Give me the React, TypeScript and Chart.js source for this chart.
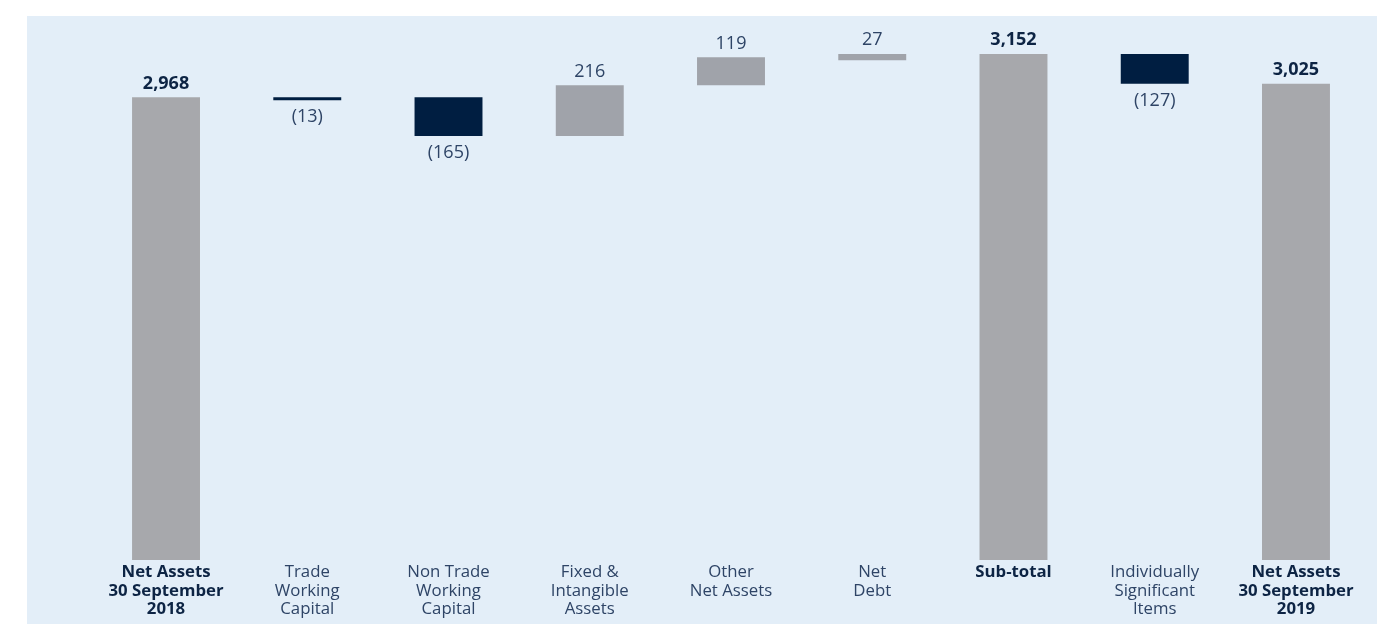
import React, { useEffect, useRef } from 'react';
import { Chart, registerables } from 'chart.js';

Chart.register(...registerables);

const categories: string[][] = [
  ['Net Assets', '30 September', '2018'],
  ['Trade', 'Working', 'Capital'],
  ['Non Trade', 'Working', 'Capital'],
  ['Fixed &', 'Intangible', 'Assets'],
  ['Other', 'Net Assets'],
  ['Net', 'Debt'],
  ['Sub-total'],
  ['Individually', 'Significant', 'Items'],
  ['Net Assets', '30 September', '2019'],
];
const changes = [2968, -13, -165, 216, 119, 27, 3152, -127, 3025];
const isTotal = [true, false, false, false, false, false, true, false, true];
const barLow = [1000, 2955, 2803, 2803, 3019, 3125, 1000, 3025, 1000];
const barHigh = [2968, 2968, 2968, 3019, 3138, 3152, 3152, 3152, 3025];
const axisMin = 1000;
const axisMax = 3300;

const TOTAL_GREY = '#a7a8ac';
const STEP_GREY = '#a0a3aa';
const NAVY = '#001e41';
const BOLD_TEXT = '#0d2444';
const REG_TEXT = '#2e4466';
const FONT = '"Open Sans", "Noto Sans", sans-serif';

function fmt(v: number): string {
  const s = Math.abs(v).toLocaleString('en-US');
  return v < 0 ? `(${s})` : s;
}

const valueLabels = {
  id: 'valueLabels',
  afterDatasetsDraw(chart: any) {
    const ctx = chart.ctx;
    const meta = chart.getDatasetMeta(0);
    ctx.save();
    ctx.textAlign = 'center';
    ctx.textBaseline = 'alphabetic';
    meta.data.forEach((el: any, i: number) => {
      const top = Math.min(el.y, el.base);
      const bottom = Math.max(el.y, el.base);
      const v = changes[i];
      if (isTotal[i]) {
        ctx.font = `bold 18px ${FONT}`;
        ctx.fillStyle = BOLD_TEXT;
      } else {
        ctx.font = `18px ${FONT}`;
        ctx.fillStyle = REG_TEXT;
      }
      if (v >= 0) {
        ctx.fillText(fmt(v), el.x, top - 8.5);
      } else {
        ctx.fillText(fmt(v), el.x, bottom + 22);
      }
    });
    ctx.restore();
  },
};

export default function App() {
  const ref = useRef<HTMLCanvasElement | null>(null);
  useEffect(() => {
    if (!ref.current) return;
    const colors = changes.map((v, i) => (isTotal[i] ? TOTAL_GREY : v < 0 ? NAVY : STEP_GREY));
    const chart = new Chart(ref.current, {
      type: 'bar',
      data: {
        labels: categories,
        datasets: [
          {
            data: barLow.map((lo, i) => [lo, barHigh[i]]) as any,
            backgroundColor: colors,
            borderWidth: 0,
            barPercentage: 0.481,
            categoryPercentage: 1,
          },
        ],
      },
      options: {
        animation: false,
        responsive: false,
        maintainAspectRatio: false,
        layout: { padding: { left: 68.4, right: 10.4, top: 3.2, bottom: 0 } },
        plugins: { legend: { display: false }, tooltip: { enabled: false } },
        scales: {
          x: {
            grid: { display: false, drawTicks: false },
            border: { display: false },
            afterFit: (scale: any) => {
              scale.height = 64;
            },
            ticks: {
              padding: 3,
              maxRotation: 0,
              autoSkip: false,
              color: (c: any) => (isTotal[c.index] ? BOLD_TEXT : REG_TEXT),
              font: (c: any) => ({
                family: FONT,
                size: 16.8,
                weight: isTotal[c.index] ? 'bold' : 'normal',
                lineHeight: 1.11,
              }),
            },
          },
          y: {
            display: false,
            min: axisMin,
            max: axisMax,
          },
        },
      },
      plugins: [valueLabels],
    });
    return () => chart.destroy();
  }, []);
  return (
    <div style={{ position: 'fixed', left: 0, top: 0, width: 1377, height: 624, background: '#ffffff' }}>
      <div style={{ position: 'absolute', left: 27, top: 16, width: 1350, height: 608, background: '#e3eef8' }}>
        <canvas ref={ref} width={1350} height={608} style={{ width: 1350, height: 608, display: 'block' }} />
      </div>
    </div>
  );
}
